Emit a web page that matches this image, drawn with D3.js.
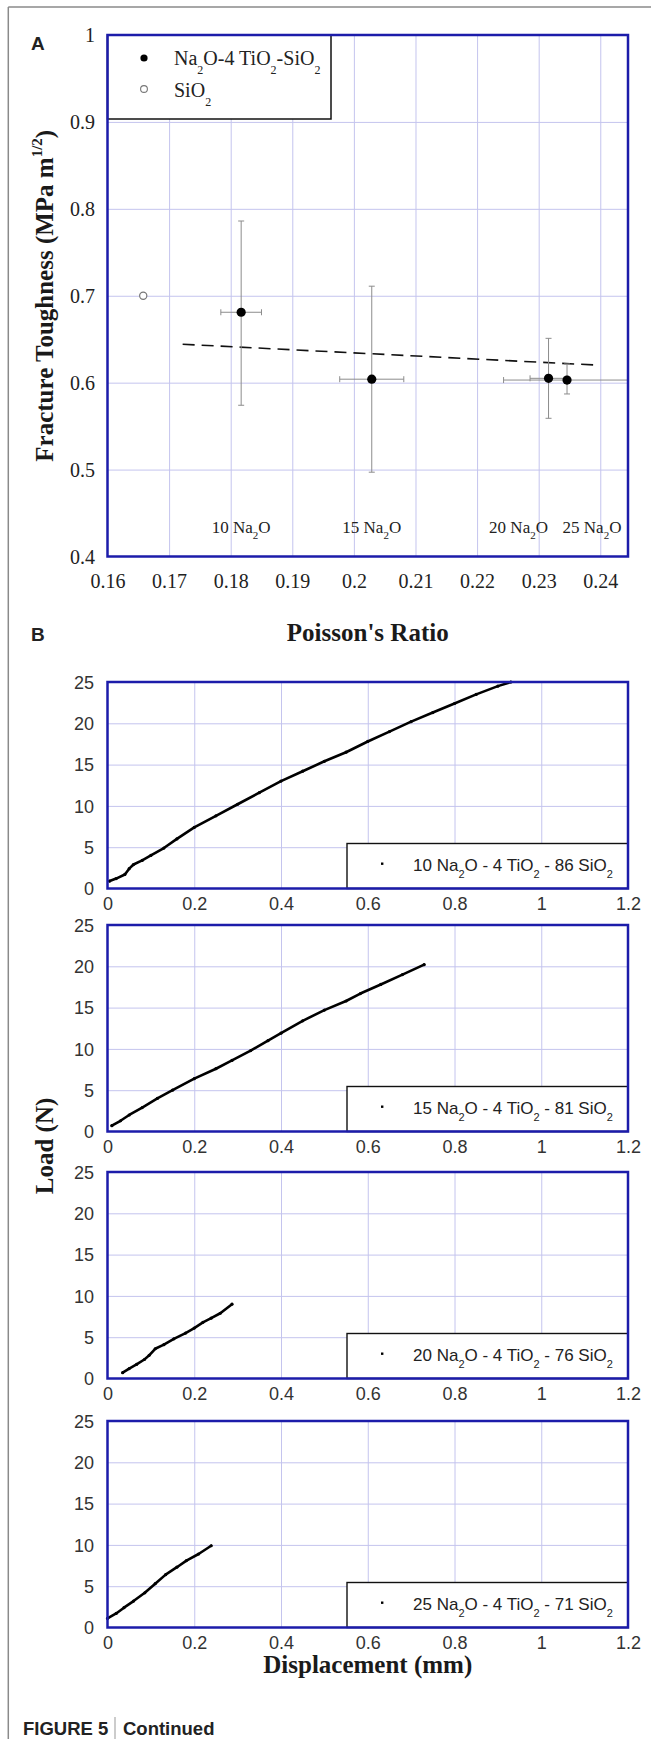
<!DOCTYPE html>
<html><head><meta charset="utf-8">
<script src="https://cdn.jsdelivr.net/npm/d3@7"></script>
<style>body{margin:0;background:#fff}svg{display:block}</style>
</head><body>
<svg id="c" width="651" height="1739"></svg>
<script>
// ---------------- DATA ----------------
// Panel A
const poissonTicks = [0.16, 0.17, 0.18, 0.19, 0.2, 0.21, 0.22, 0.23, 0.24];
const toughTicks = [0.4, 0.5, 0.6, 0.7, 0.8, 0.9, 1];
const naLabels = ["10 Na_2O", "15 Na_2O", "20 Na_2O", "25 Na_2O"];
const poisson = [0.1817, 0.2029, 0.2316, 0.2346];
const poissonErr = [0.0033, 0.0052, 0.0030, 0.0103];
const toughness = [0.681, 0.604, 0.605, 0.603];
const toughLow = [0.574, 0.497, 0.559, 0.587];
const toughHigh = [0.786, 0.711, 0.651, 0.6215];
const silicaPoisson = [0.1658];
const silicaTough = [0.700];
const trendPoisson = [0.1722, 0.2389];
const trendTough = [0.6442, 0.6204];
const legendA = ["Na_2O-4 TiO_2-SiO_2", "SiO_2"];

// Panel B
const dispTicks = [0, 0.2, 0.4, 0.6, 0.8, 1, 1.2];
const loadTicks = [0, 5, 10, 15, 20, 25];
const glassNames = ["10 Na_2O - 4 TiO_2 - 86 SiO_2", "15 Na_2O - 4 TiO_2 - 81 SiO_2",
                    "20 Na_2O - 4 TiO_2 - 76 SiO_2", "25 Na_2O - 4 TiO_2 - 71 SiO_2"];
const disp10 = [0.005,0.02,0.04,0.05,0.06,0.08,0.10,0.13,0.16,0.20,0.25,0.30,0.35,0.40,0.45,0.50,0.55,0.60,0.65,0.70,0.75,0.80,0.85,0.90,0.93];
const load10 = [0.9,1.2,1.7,2.4,2.9,3.4,4.0,4.9,6.0,7.4,8.8,10.2,11.6,13.0,14.2,15.4,16.5,17.8,19.0,20.2,21.3,22.4,23.5,24.5,25.0];
const disp15 = [0.01,0.03,0.05,0.08,0.115,0.15,0.20,0.25,0.287,0.33,0.37,0.40,0.45,0.50,0.55,0.583,0.63,0.68,0.73];
const load15 = [0.7,1.3,2.0,2.9,4.0,5.0,6.4,7.6,8.6,9.8,11.0,11.9,13.4,14.7,15.8,16.7,17.8,19.0,20.2];
const disp20 = [0.035,0.05,0.067,0.085,0.096,0.11,0.13,0.153,0.18,0.20,0.22,0.239,0.26,0.287];
const load20 = [0.7,1.2,1.7,2.3,2.8,3.6,4.1,4.8,5.5,6.1,6.8,7.3,7.9,9.0];
const disp25 = [0.0,0.02,0.038,0.06,0.086,0.11,0.134,0.16,0.182,0.21,0.239];
const load25 = [1.1,1.7,2.4,3.2,4.2,5.3,6.4,7.3,8.1,8.9,9.9];
const dispSeries = [disp10, disp15, disp20, disp25];
const loadSeries = [load10, load15, load20, load25];

// ---------------- STYLE / LAYOUT ----------------
const SERIF = "'Liberation Serif','Times New Roman',serif";
const SANS = "'Liberation Sans',Arial,sans-serif";
const BORDER = "#1c1caa";
const GRID = "#c4c4ee";
const svg = d3.select("#c");

function chem(sel, str, subSize, drop) {
  const parts = str.split(/_(\d)/);
  let back = false;
  parts.forEach((p, i) => {
    if (p === "") return;
    if (i % 2 === 1) {
      sel.append("tspan").attr("font-size", subSize).attr("dy", drop).text(p);
      back = true;
    } else {
      const t = sel.append("tspan").text(p);
      if (back) { t.attr("dy", -drop); back = false; }
    }
  });
  return sel;
}

// page frame
svg.append("line").attr("x1", 8.3).attr("x2", 8.3).attr("y1", 7).attr("y2", 1739).attr("stroke", "#8a8a8a").attr("stroke-width", 1.5);
svg.append("line").attr("x1", 8.3).attr("x2", 651).attr("y1", 7).attr("y2", 7).attr("stroke", "#8a8a8a").attr("stroke-width", 1.5);

// ---------------- PANEL A ----------------
const L = 107.5, R = 628;
const xA = d3.scaleLinear().domain([0.16, 0.2445]).range([L, R]);
const yA = d3.scaleLinear().domain([0.4, 1]).range([556.5, 35]);
const gA = svg.append("g");
gA.append("clipPath").attr("id", "clipA").append("rect")
  .attr("x", L).attr("y", 35).attr("width", R - L).attr("height", 556.5 - 35);

// grid
gA.append("g").attr("transform", `translate(0,${yA(0.4)})`)
  .call(d3.axisBottom(xA).tickValues(poissonTicks.slice(1)).tickSize(-(yA(0.4) - yA(1))).tickFormat(""))
  .call(g => { g.select(".domain").remove(); g.selectAll("line").attr("stroke", GRID).attr("stroke-width", 1); });
gA.append("g").attr("transform", `translate(${L},0)`)
  .call(d3.axisLeft(yA).tickValues(toughTicks.slice(1, -1)).tickSize(-(R - L)).tickFormat(""))
  .call(g => { g.select(".domain").remove(); g.selectAll("line").attr("stroke", GRID).attr("stroke-width", 1); });

// tick labels
gA.append("g").attr("transform", `translate(0,${yA(0.4)})`)
  .call(d3.axisBottom(xA).tickValues(poissonTicks).tickSize(0).tickPadding(0).tickFormat(d3.format("~g")))
  .call(g => { g.select(".domain").remove();
    g.selectAll("text").attr("font-family", SERIF).attr("font-size", 20).attr("fill", "#222").attr("dy", null).attr("y", 31); });
gA.append("g").attr("transform", `translate(95,0)`)
  .call(d3.axisLeft(yA).tickValues(toughTicks).tickSize(0).tickPadding(0).tickFormat(d3.format("~g")))
  .call(g => { g.select(".domain").remove();
    g.selectAll("text").attr("font-family", SERIF).attr("font-size", 20).attr("fill", "#222").attr("dy", "0.33em"); });

// trend line (dashed)
const clipped = gA.append("g").attr("clip-path", "url(#clipA)");
clipped.append("path")
  .datum(trendPoisson.map((p, i) => [p, trendTough[i]]))
  .attr("d", d3.line().x(d => xA(d[0])).y(d => yA(d[1])))
  .attr("fill", "none").attr("stroke", "#111").attr("stroke-width", 1.6).attr("stroke-dasharray", "12 7");

// error bars
const EB = "#8c8c8c", cap = 3;
poisson.forEach((p, i) => {
  const g = clipped.append("g").attr("stroke", EB).attr("stroke-width", 1);
  const cx = xA(p), cy = yA(toughness[i]);
  const x0 = xA(p - poissonErr[i]), x1 = xA(p + poissonErr[i]);
  const y0 = yA(toughLow[i]), y1 = yA(toughHigh[i]);
  g.append("line").attr("x1", x0).attr("x2", x1).attr("y1", cy).attr("y2", cy);
  g.append("line").attr("x1", x0).attr("x2", x0).attr("y1", cy - cap).attr("y2", cy + cap);
  g.append("line").attr("x1", x1).attr("x2", x1).attr("y1", cy - cap).attr("y2", cy + cap);
  g.append("line").attr("x1", cx).attr("x2", cx).attr("y1", y0).attr("y2", y1);
  g.append("line").attr("x1", cx - cap).attr("x2", cx + cap).attr("y1", y0).attr("y2", y0);
  g.append("line").attr("x1", cx - cap).attr("x2", cx + cap).attr("y1", y1).attr("y2", y1);
});
// points
clipped.selectAll("circle.na").data(poisson).join("circle").attr("class", "na")
  .attr("cx", d => xA(d)).attr("cy", (d, i) => yA(toughness[i])).attr("r", 4.6).attr("fill", "#000");
clipped.selectAll("circle.si").data(silicaPoisson).join("circle").attr("class", "si")
  .attr("cx", d => xA(d)).attr("cy", (d, i) => yA(silicaTough[i])).attr("r", 3.6)
  .attr("fill", "#fff").attr("stroke", "#777").attr("stroke-width", 1.2);

// composition annotations
const annShift = [0, 0, -30, 25];
naLabels.forEach((t, i) => {
  const tx = gA.append("text").attr("x", xA(poisson[i]) + annShift[i]).attr("y", 533)
    .attr("text-anchor", "middle").attr("font-family", SERIF).attr("font-size", 17).attr("fill", "#222");
  chem(tx, t, 11, 6);
});

// legend A
gA.append("rect").attr("x", L).attr("y", 35).attr("width", 331 - L).attr("height", 119 - 35)
  .attr("fill", "#fff").attr("stroke", "#111").attr("stroke-width", 1.5);
gA.append("circle").attr("cx", 144).attr("cy", 58).attr("r", 3.6).attr("fill", "#000");
gA.append("circle").attr("cx", 144).attr("cy", 89).attr("r", 3.4).attr("fill", "#fff").attr("stroke", "#777").attr("stroke-width", 1.1);
legendA.forEach((t, i) => {
  const tx = gA.append("text").attr("x", 174).attr("y", [65, 97][i])
    .attr("font-family", SERIF).attr("font-size", 20).attr("fill", "#222");
  chem(tx, t, 12, 9);
});

// plot border A
gA.append("rect").attr("x", L).attr("y", 35).attr("width", R - L).attr("height", 556.5 - 35)
  .attr("fill", "none").attr("stroke", BORDER).attr("stroke-width", 2.5);

// axis titles A
const tA = gA.append("text").attr("transform", `translate(53,${(35 + 556.5) / 2}) rotate(-90)`)
  .attr("text-anchor", "middle").attr("font-family", SERIF).attr("font-size", 25).attr("font-weight", "bold").attr("fill", "#1a1a1a");
tA.append("tspan").text("Fracture Toughness (MPa m");
tA.append("tspan").attr("font-size", 15).attr("dy", -11).text("1/2");
tA.append("tspan").attr("dy", 11).text(")");
svg.append("text").attr("x", (L + R) / 2).attr("y", 641).attr("text-anchor", "middle")
  .attr("font-family", SERIF).attr("font-size", 25).attr("font-weight", "bold").attr("fill", "#1a1a1a").text("Poisson's Ratio");

// panel letters
svg.append("text").attr("x", 31).attr("y", 50).attr("font-family", SANS).attr("font-weight", "bold").attr("font-size", 19).attr("fill", "#222").text("A");
svg.append("text").attr("x", 31).attr("y", 641).attr("font-family", SANS).attr("font-weight", "bold").attr("font-size", 19).attr("fill", "#222").text("B");

// ---------------- PANEL B ----------------
const tops = [682, 925, 1172, 1421];
const hB = 206.5;
const xB = d3.scaleLinear().domain([0, 1.2]).range([L, R]);
tops.forEach((top, k) => {
  const bottom = top + hB;
  const yB = d3.scaleLinear().domain([0, 25]).range([bottom, top]);
  const g = svg.append("g");
  g.append("g").attr("transform", `translate(0,${bottom})`)
    .call(d3.axisBottom(xB).tickValues(dispTicks.slice(1, -1)).tickSize(-hB).tickFormat(""))
    .call(s => { s.select(".domain").remove(); s.selectAll("line").attr("stroke", GRID).attr("stroke-width", 1); });
  g.append("g").attr("transform", `translate(${L},0)`)
    .call(d3.axisLeft(yB).tickValues(loadTicks.slice(1, -1)).tickSize(-(R - L)).tickFormat(""))
    .call(s => { s.select(".domain").remove(); s.selectAll("line").attr("stroke", GRID).attr("stroke-width", 1); });
  // labels
  g.append("g").attr("transform", `translate(0,${bottom})`)
    .call(d3.axisBottom(xB).tickValues(dispTicks).tickSize(0).tickPadding(0).tickFormat(d3.format("~g")))
    .call(s => { s.select(".domain").remove();
      s.selectAll("text").attr("font-family", SANS).attr("font-size", 18).attr("fill", "#333").attr("dy", null).attr("y", 21.5); });
  g.append("g").attr("transform", `translate(94,0)`)
    .call(d3.axisLeft(yB).tickValues(loadTicks).tickSize(0).tickPadding(0).tickFormat(d3.format("~g")))
    .call(s => { s.select(".domain").remove();
      s.selectAll("text").attr("font-family", SANS).attr("font-size", 18).attr("fill", "#333").attr("dy", "0.35em"); });
  // curve
  const pts = dispSeries[k].map((d, i) => [d, loadSeries[k][i]]);
  g.append("path").datum(pts)
    .attr("d", d3.line().x(d => xB(d[0])).y(d => yB(d[1])))
    .attr("fill", "none").attr("stroke", "#000").attr("stroke-width", 2.6)
    .attr("stroke-linejoin", "round").attr("stroke-linecap", "round");
  g.selectAll("circle.pt").data(pts).join("circle").attr("class", "pt")
    .attr("cx", d => xB(d[0])).attr("cy", d => yB(d[1])).attr("r", 1.6).attr("fill", "#000");
  // legend box
  g.append("rect").attr("x", 347).attr("y", bottom - 45).attr("width", R - 347).attr("height", 45)
    .attr("fill", "#fff").attr("stroke", "#111").attr("stroke-width", 1.4);
  g.append("rect").attr("x", 381).attr("y", bottom - 26).attr("width", 2.4).attr("height", 2.4).attr("fill", "#000");
  const tx = g.append("text").attr("x", 413).attr("y", bottom - 18)
    .attr("font-family", SANS).attr("font-size", 17).attr("fill", "#222");
  chem(tx, glassNames[k], 11, 7);
  // border
  g.append("rect").attr("x", L).attr("y", top).attr("width", R - L).attr("height", hB)
    .attr("fill", "none").attr("stroke", BORDER).attr("stroke-width", 2.5);
});

// axis titles B
svg.append("text").attr("transform", `translate(53,1146) rotate(-90)`).attr("text-anchor", "middle")
  .attr("font-family", SERIF).attr("font-size", 25).attr("font-weight", "bold").attr("fill", "#1a1a1a").text("Load (N)");
svg.append("text").attr("x", (L + R) / 2).attr("y", 1673).attr("text-anchor", "middle")
  .attr("font-family", SERIF).attr("font-size", 25).attr("font-weight", "bold").attr("fill", "#1a1a1a").text("Displacement (mm)");

// caption
const cap2 = svg.append("g");
cap2.append("text").attr("x", 23).attr("y", 1735).attr("font-family", SANS).attr("font-weight", "bold")
  .attr("font-size", 18.5).attr("fill", "#222").text("FIGURE 5");
cap2.append("line").attr("x1", 115).attr("x2", 115).attr("y1", 1717).attr("y2", 1739).attr("stroke", "#999").attr("stroke-width", 1);
cap2.append("text").attr("x", 123).attr("y", 1735).attr("font-family", SANS).attr("font-weight", "bold")
  .attr("font-size", 18.5).attr("fill", "#222").text("Continued");
</script>
</body></html>
